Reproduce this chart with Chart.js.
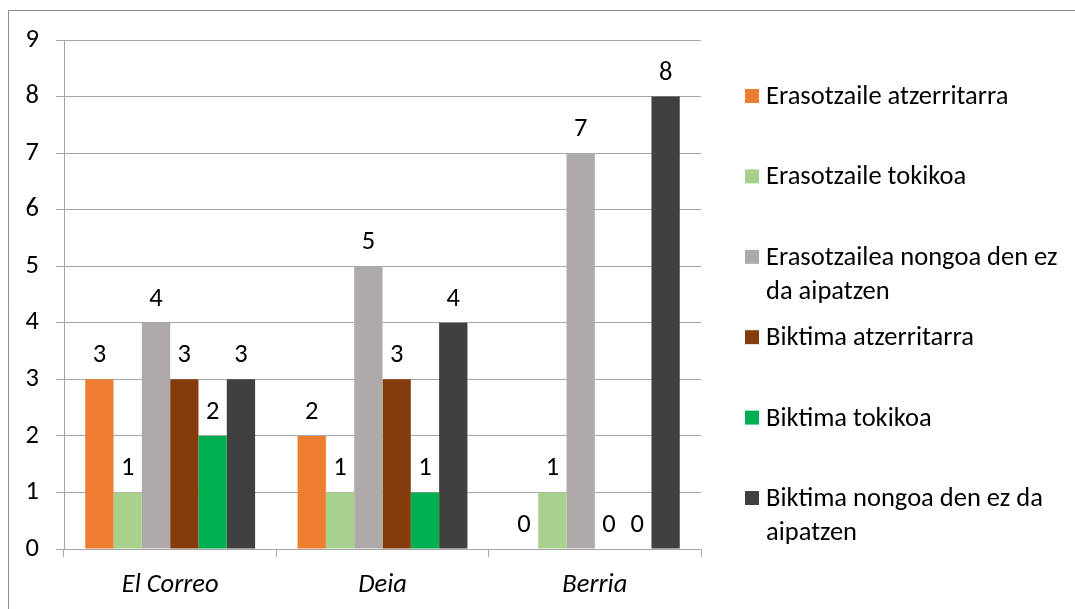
<!DOCTYPE html>
<html>
<head>
<meta charset="utf-8">
<script src="https://cdn.jsdelivr.net/npm/chart.js@4.4.1/dist/chart.umd.min.js"></script>
<style>
    html, body { margin: 0; padding: 0; background: #fff; }
    #wrap { position: relative; width: 1075px; height: 609px; }
</style>
</head>
<body>
<div id="wrap"><canvas id="chart" width="1075" height="609"></canvas></div>
<script>
const categories = ['El Correo', 'Deia', 'Berria'];
const yTicks = [0, 1, 2, 3, 4, 5, 6, 7, 8, 9];

// series names, already split the way the legend wraps them
const seriesNames = [
    ['Erasotzaile atzerritarra'],
    ['Erasotzaile tokikoa'],
    ['Erasotzailea nongoa den ez', 'da aipatzen'],
    ['Biktima atzerritarra'],
    ['Biktima tokikoa'],
    ['Biktima nongoa den ez da', 'aipatzen'],
];
const erasotzaileAtzerritarra = [3, 2, 0];
const erasotzaileTokikoa = [1, 1, 1];
const erasotzaileEzAipatua = [4, 5, 7];
const biktimaAtzerritarra = [3, 3, 0];
const biktimaTokikoa = [2, 1, 0];
const biktimaEzAipatua = [3, 4, 8];
const seriesValues = [erasotzaileAtzerritarra, erasotzaileTokikoa, erasotzaileEzAipatua,
    biktimaAtzerritarra, biktimaTokikoa, biktimaEzAipatua];
const seriesColors = ['#ed7d31', '#a9d18e', '#aeaaaa', '#843c0c', '#00b050', '#404040'];

const FONT = 'Carlito, Lato, sans-serif';
const FONT_SIZE = 26.5;
const gridColor = '#a6a6a6';

// frame round the chart (only left and top edges are inside the picture)
const framePlugin = {
    id: 'frame',
    beforeDraw(chart) {
        const ctx = chart.ctx;
        ctx.save();
        ctx.fillStyle = '#fff';
        ctx.fillRect(0, 0, chart.width, chart.height);
        ctx.strokeStyle = '#8c8c8c';
        ctx.lineWidth = 1;
        ctx.beginPath();
        ctx.moveTo(8.5, chart.height);
        ctx.lineTo(8.5, 10.5);
        ctx.lineTo(chart.width, 10.5);
        ctx.stroke();
        ctx.restore();
    }
};

// value above every bar, zeros included
const valueLabels = {
    id: 'valueLabels',
    afterDatasetsDraw(chart) {
        const ctx = chart.ctx;
        ctx.save();
        ctx.font = FONT_SIZE + 'px ' + FONT;
        ctx.fillStyle = '#000';
        ctx.textAlign = 'center';
        ctx.textBaseline = 'alphabetic';
        chart.data.datasets.forEach((ds, i) => {
            chart.getDatasetMeta(i).data.forEach((bar, j) => {
                ctx.fillText(String(ds.data[j]), bar.x, bar.y - 17);
            });
        });
        ctx.restore();
    }
};

// legend on the right, first lines evenly spaced like the original
const sideLegend = {
    id: 'sideLegend',
    afterDraw(chart) {
        const ctx = chart.ctx;
        const boxX = 745, boxSize = 14, textX = 766;
        const firstBase = 104, step = 80.4, lineH = 34;
        ctx.save();
        ctx.font = FONT_SIZE + 'px ' + FONT;
        ctx.textAlign = 'left';
        ctx.textBaseline = 'alphabetic';
        chart.data.datasets.forEach((ds, i) => {
            const base = firstBase + i * step;
            ctx.fillStyle = ds.backgroundColor;
            ctx.fillRect(boxX, base - 15, boxSize, boxSize);
            ctx.fillStyle = '#000';
            ds.legendLines.forEach((line, k) => {
                ctx.fillText(line, textX, base + k * lineH);
            });
        });
        ctx.restore();
    }
};

const datasets = [];
for (let i = 0; i < seriesValues.length; i++) {
    datasets.push({
        label: seriesNames[i].join(' '),
        legendLines: seriesNames[i],
        data: seriesValues[i],
        backgroundColor: seriesColors[i],
        borderWidth: 0,
        barPercentage: 1,
        categoryPercentage: 0.8,
    });
}

new Chart(document.getElementById('chart').getContext('2d'), {
    type: 'bar',
    data: {
        labels: categories,
        datasets: datasets,
    },
    options: {
        responsive: false,
        animation: false,
        devicePixelRatio: 1,
        layout: {
            padding: { left: 0, top: 40, right: 374, bottom: 0 }
        },
        plugins: {
            legend: { display: false },
            tooltip: { enabled: false },
        },
        scales: {
            x: {
                afterFit(scale) { scale.height = 60; },
                ticks: {
                    color: '#000',
                    font: { family: FONT, size: FONT_SIZE, style: 'italic' },
                    padding: 12,
                },
                grid: {
                    drawOnChartArea: false,
                    drawTicks: true,
                    tickLength: 8,
                    color: gridColor,
                },
                border: { display: true, color: gridColor },
            },
            y: {
                min: yTicks[0],
                max: yTicks[yTicks.length - 1],
                afterFit(scale) { scale.width = 64; },
                afterBuildTicks(scale) {
                    scale.ticks = yTicks.map(v => ({ value: v }));
                },
                ticks: {
                    color: '#000',
                    font: { family: FONT, size: FONT_SIZE },
                    padding: 17,
                },
                grid: {
                    color: gridColor,
                    tickLength: 8,
                    drawTicks: true,
                },
                border: { display: true, color: gridColor },
            }
        }
    },
    plugins: [framePlugin, valueLabels, sideLegend]
});
</script>
</body>
</html>
